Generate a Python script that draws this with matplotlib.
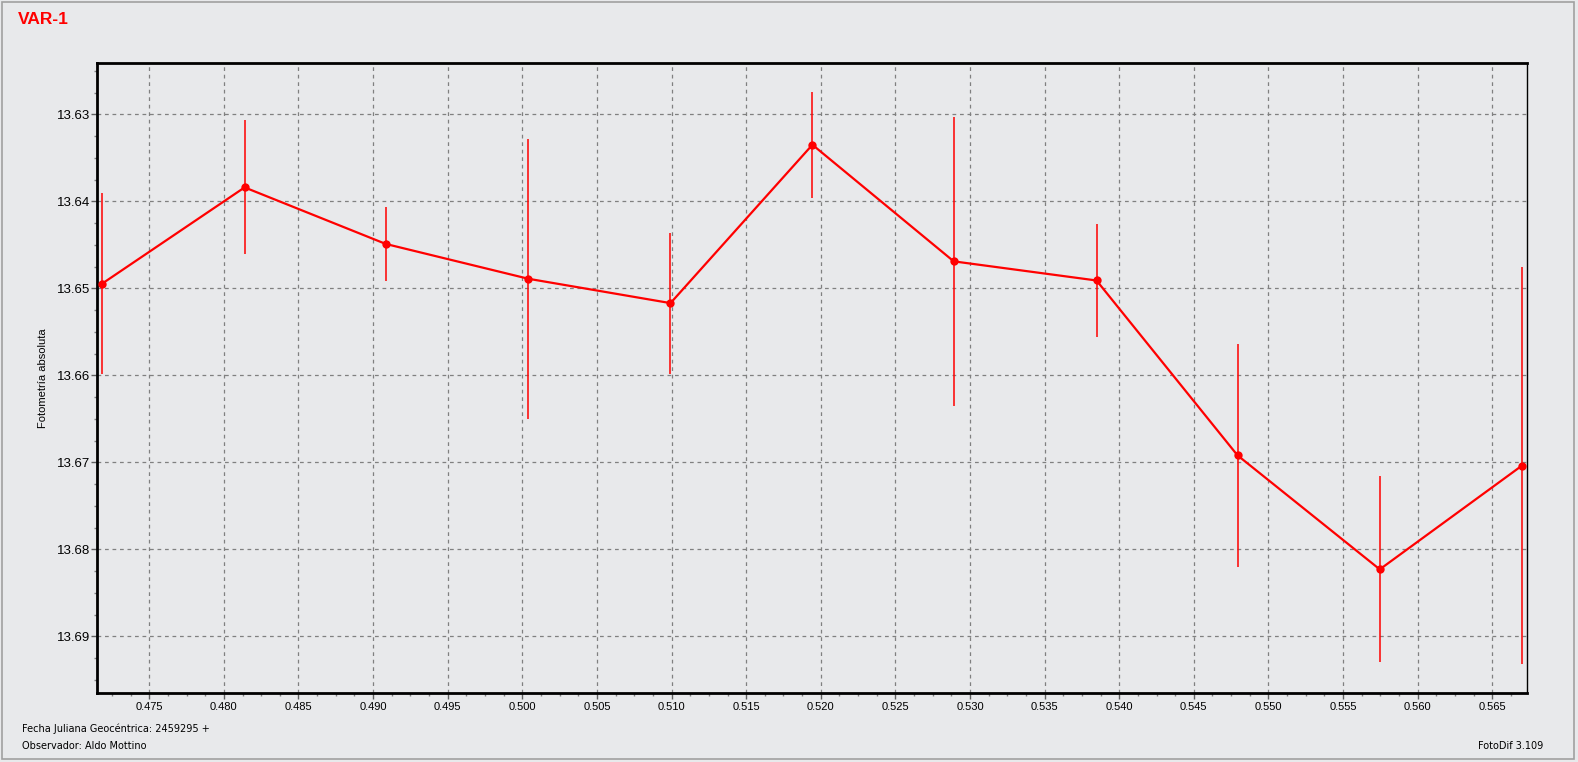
import matplotlib
matplotlib.use("Agg")
import matplotlib.pyplot as plt
from matplotlib.ticker import MultipleLocator, FormatStrFormatter
from matplotlib.patches import Rectangle

# fase (JD geocentrica - 2459295), magnitud y error
jd = [0.47181, 0.48139, 0.49085, 0.50040, 0.50993, 0.51944,
      0.52891, 0.53848, 0.54793, 0.55746, 0.56697]
mag = [13.6495, 13.6384, 13.6449, 13.6489, 13.6517, 13.6335,
       13.6469, 13.6491, 13.6692, 13.6823, 13.6704]
err = [0.0104, 0.0077, 0.0043, 0.0161, 0.0081, 0.0061,
       0.0166, 0.0065, 0.0128, 0.0107, 0.0228]

bg = '#E8E9EB'
red = '#FF0000'

fig = plt.figure(figsize=(15.78, 7.62), dpi=100, facecolor=bg)
ax = fig.add_axes([0.0613, 0.0909, 0.9066, 0.8260], facecolor=bg)

ax.errorbar(jd, mag, yerr=err, fmt='none', ecolor=red, elinewidth=1.1,
            capsize=0, zorder=3)
ax.plot(jd, mag, color=red, linewidth=1.6, marker='o', markersize=6,
        markeredgewidth=0, zorder=4)

ax.set_xlim(0.47148, 0.56735)
ax.set_ylim(13.69648, 13.62414)

ax.xaxis.set_major_locator(MultipleLocator(0.005))
ax.xaxis.set_minor_locator(MultipleLocator(0.00125))
ax.yaxis.set_major_locator(MultipleLocator(0.01))
ax.yaxis.set_minor_locator(MultipleLocator(0.0025))
ax.xaxis.set_major_formatter(FormatStrFormatter('%.3f'))
ax.yaxis.set_major_formatter(FormatStrFormatter('%.2f'))

ax.grid(True, which='major', color='#808080', linestyle=(0, (3, 3)),
        linewidth=0.9)
ax.set_axisbelow(True)

for lab in ax.get_xticklabels():
    lab.set_fontfamily('Liberation Sans')
    lab.set_fontsize(8)
for lab in ax.get_yticklabels():
    lab.set_fontfamily('Liberation Sans')
    lab.set_fontsize(9.5)
ax.tick_params(which='major', direction='out', length=4, width=1,
               color='#606060', pad=3)
ax.tick_params(axis='y', which='major', pad=1)
ax.tick_params(which='minor', direction='out', length=2.5, width=1,
               color='#808080')

for side in ['left', 'bottom', 'top']:
    ax.spines[side].set_linewidth(2)
ax.spines['right'].set_linewidth(1)

ax.set_ylabel('Fotometría absoluta', fontsize=8,
              fontfamily='Liberation Sans', labelpad=6)

fig.text(18 / 1578, 1 - 19 / 762, 'VAR-1', color=red, fontsize=12.5,
         fontweight='bold', fontfamily='Liberation Sans', va='center')
fig.text(22 / 1578, 1 - 729 / 762, 'Fecha Juliana Geocéntrica: 2459295 +',
         fontsize=7, fontfamily='DejaVu Sans', va='center')
fig.text(22 / 1578, 1 - 746 / 762, 'Observador: Aldo Mottino',
         fontsize=7, fontfamily='DejaVu Sans', va='center')
fig.text(1543 / 1578, 1 - 746 / 762, 'FotoDif 3.109',
         fontsize=7, fontfamily='DejaVu Sans', va='center', ha='right')

fig.patches.append(Rectangle((1.5 / 1578, 3 / 762), 1572 / 1578, 757 / 762,
                             transform=fig.transFigure, fill=False,
                             edgecolor='#A0A0A0', linewidth=1.2))

fig.savefig('out.png', dpi=100, facecolor=bg)
